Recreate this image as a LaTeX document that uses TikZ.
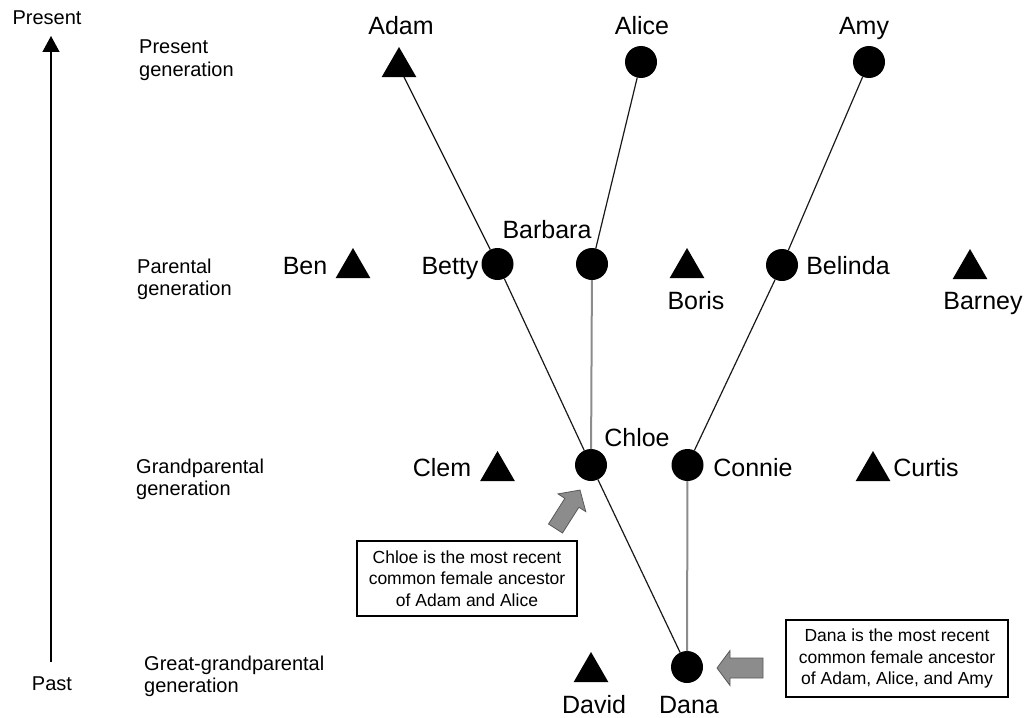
\documentclass[tikz,border=0pt]{standalone}
\usepackage{fontspec}
\setmainfont{Liberation Sans}
\usetikzlibrary{shapes.geometric,arrows.meta}

\tikzset{
  fem/.style={circle, fill=black, minimum size=32pt, inner sep=0pt, outer sep=0pt},
  male/.style={regular polygon, regular polygon sides=3, fill=black,
               minimum size=40pt, inner sep=0pt, outer sep=0pt},
  lbl/.style={anchor=base, inner sep=0pt, font=\fontsize{25}{30}\selectfont},
  axislbl/.style={anchor=base, inner sep=0pt, font=\fontsize{20}{22}\selectfont},
  gen/.style={anchor=base west, align=left, inner sep=0pt, font=\fontsize{20}{22}\selectfont},
  note/.style={draw=black, line width=1.4pt, minimum width=220pt, minimum height=75pt,
               align=center, inner sep=0pt, font=\fontsize{17.5}{21.7}\selectfont},
  lineage/.style={draw=black!90, line width=1.2pt},
  side/.style={draw=black!45, line width=2pt},
  blockarrow/.style={fill=black!45, draw=black!65, line width=0.8pt, line join=miter},
}

\begin{document}
\begin{tikzpicture}[x=1pt, y=-1pt]
  \useasboundingbox (0,0) rectangle (1027,717);

  % time axis
  \coordinate (past) at (51,662);
  \coordinate (present) at (51,36);
  \draw[line width=1.3pt, -{Triangle[length=16pt,width=17pt]}] (past) -- (present);
  \node[axislbl] (presentlbl) at (47,25) {Present};
  \node[axislbl] (pastlbl) at (52,690) {Past};

  % generation captions (anchored at the baseline of the last line)
  \node[gen] (g1) at (139,76) {Present\\generation};
  \node[gen] (g2) at (137,295) {Parental\\generation};
  \node[gen] (g3) at (136,495) {Grandparental\\generation};
  \node[gen] (g4) at (144,692) {Great-grandparental\\generation};

  % individuals: circles are females, triangles are males
  \node[male] (adam) at (399,67) {};
  \node[fem] (alice) at (641,62) {};
  \node[fem] (amy) at (869,62) {};

  \node[male] (ben) at (353,268) {};
  \node[fem] (betty) at (497.5,264) {};
  \node[fem] (barbara) at (592,264) {};
  \node[male] (boris) at (687,268) {};
  \node[fem] (belinda) at (782,265) {};
  \node[male] (barney) at (970,269) {};

  \node[male] (clem) at (497.5,471) {};
  \node[fem] (chloe) at (591,465) {};
  \node[fem] (connie) at (687.5,465) {};
  \node[male] (curtis) at (873,471) {};

  \node[male] (david) at (591,672) {};
  \node[fem] (dana) at (687,667) {};

  % names
  \node[lbl] (adamlbl) at (401,35) {Adam};
  \node[lbl] (alicelbl) at (642,35) {Alice};
  \node[lbl] (amylbl) at (864,35) {Amy};
  \node[lbl] (benlbl) at (305,274) {Ben};
  \node[lbl] (bettylbl) at (450,274) {Betty};
  \node[lbl] (barbaralbl) at (547,238) {Barbara};
  \node[lbl] (borislbl) at (696,309) {Boris};
  \node[lbl] (belindalbl) at (848,274) {Belinda};
  \node[lbl] (barneylbl) at (983,309) {Barney};
  \node[lbl] (clemlbl) at (442,476) {Clem};
  \node[lbl] (chloelbl) at (637,446) {Chloe};
  \node[lbl] (connielbl) at (753,476) {Connie};
  \node[lbl] (curtislbl) at (926,476) {Curtis};
  \node[lbl] (davidlbl) at (594,713) {David};
  \node[lbl] (danalbl) at (689,713) {Dana};

  % maternal lines
  \draw[lineage] (adam) -- (betty) -- (chloe) -- (dana);
  \draw[lineage] (alice) -- (barbara);
  \draw[side] (barbara) -- (chloe);
  \draw[lineage] (amy) -- (belinda) -- (connie);
  \draw[side] (connie) -- (dana);

  % notes
  \node[note] (chloenote) at (467,578.5)
    {Chloe is the most recent\\common female ancestor\\of Adam and Alice};
  \node[note, minimum width=222pt, minimum height=77pt] (dananote) at (897,658.5)
    {Dana is the most recent\\common female ancestor\\of Adam, Alice, and Amy};

  % pointer arrows
  \begin{scope}[shift={(555.5,528.5)}, rotate=57.5]
    \path[blockarrow] (0,-8.3) -- (30.5,-8.3) -- (30.5,-16.5) -- (45.6,0)
      -- (30.5,16.5) -- (30.5,8.3) -- (0,8.3) -- cycle;
  \end{scope}
  \begin{scope}[shift={(763,668)}, rotate=180]
    \path[blockarrow] (0,-10) -- (33,-10) -- (33,-17.5) -- (46,0)
      -- (33,17.5) -- (33,10) -- (0,10) -- cycle;
  \end{scope}
\end{tikzpicture}
\end{document}
